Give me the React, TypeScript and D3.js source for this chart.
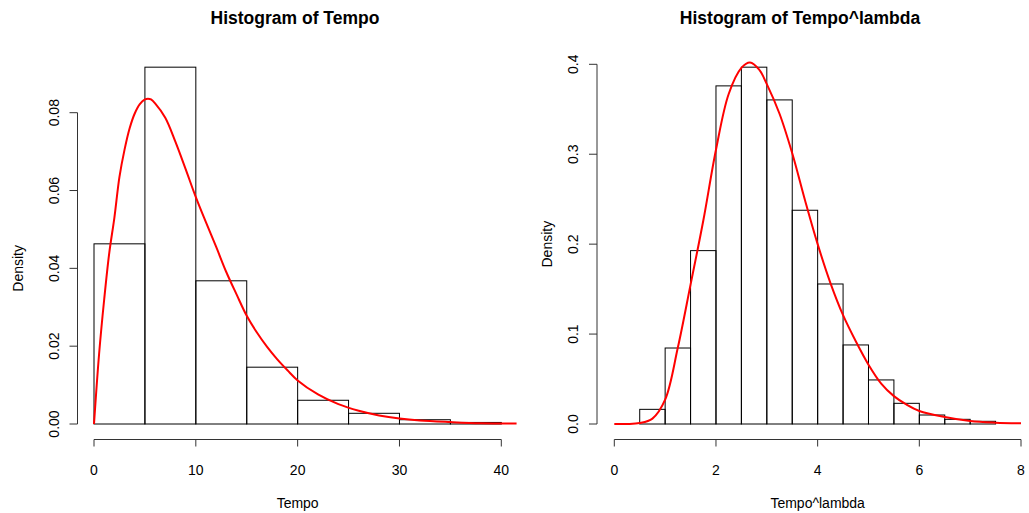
import React from "react";
import * as d3 from "d3";

// Left histogram: Tempo (bin width 5)
const tempoBinStarts = [0, 5, 10, 15, 20, 25, 30, 35];
const tempoDensity = [0.0463, 0.0917, 0.0368, 0.0146, 0.0061, 0.00275, 0.0011, 0.0004];
const tempoBinWidth = 5;
const tempoCurveX = [0, 0.5, 1, 1.5, 2, 2.5, 3, 3.5, 4, 4.5, 5, 5.3, 5.6, 6, 7, 8, 9, 10, 11, 12, 13, 14, 15, 16, 17, 18, 19, 20, 22, 24, 26, 28, 30, 32, 35, 38, 41.5];
const tempoCurveY = [0, 0.018, 0.032, 0.044, 0.053, 0.0635, 0.0705, 0.076, 0.0798, 0.0822, 0.0834, 0.0836, 0.0834, 0.0824, 0.0787, 0.0725, 0.0655, 0.0583, 0.0518, 0.0455, 0.039, 0.0333, 0.0278, 0.0235, 0.0198, 0.0166, 0.0138, 0.0112, 0.0076, 0.0051, 0.0034, 0.0022, 0.0014, 0.0009, 0.0005, 0.0002, 0.0001];
const tempoXTicks = [0, 10, 20, 30, 40];
const tempoYTicks = [0, 0.02, 0.04, 0.06, 0.08];

// Right histogram: Tempo^lambda (bin width 0.5)
const lambdaBinStarts = [0.5, 1, 1.5, 2, 2.5, 3, 3.5, 4, 4.5, 5, 5.5, 6, 6.5, 7];
const lambdaDensity = [0.0163, 0.0845, 0.1928, 0.376, 0.3968, 0.3604, 0.2377, 0.1557, 0.0879, 0.049, 0.023, 0.01, 0.0052, 0.003];
const lambdaBinWidth = 0.5;
const lambdaCurveX = [0, 0.25, 0.5, 0.75, 1, 1.25, 1.5, 1.75, 2, 2.25, 2.5, 2.67, 2.85, 3, 3.25, 3.5, 3.75, 4, 4.25, 4.5, 4.75, 5, 5.25, 5.5, 5.75, 6, 6.5, 7, 7.5, 8];
const lambdaCurveY = [0, 0, 0.001, 0.006, 0.027, 0.085, 0.155, 0.226, 0.305, 0.367, 0.396, 0.402, 0.394, 0.378, 0.345, 0.301, 0.249, 0.2, 0.157, 0.121, 0.092, 0.066, 0.045, 0.031, 0.0215, 0.0145, 0.0078, 0.0033, 0.0015, 0.0008];
const lambdaXTicks = [0, 2, 4, 6, 8];
const lambdaYTicks = [0, 0.1, 0.2, 0.3, 0.4];

const FONT = "'Liberation Sans', Arial, sans-serif";

type PanelProps = {
  title: string;
  titleX: number;
  xLabel: string;
  binStarts: number[];
  density: number[];
  binWidth: number;
  curveX: number[];
  curveY: number[];
  xTicks: number[];
  yTicks: number[];
  yFmt: (v: number) => string;
  xRange: [number, number];
  yRange: [number, number];
  axisX: number;
  yLabelX: number;
  yTickLabelX: number;
};

function Panel(p: PanelProps) {
  const xDom: [number, number] = [p.xTicks[0], p.xTicks[p.xTicks.length - 1]];
  const yDom: [number, number] = [p.yTicks[0], p.yTicks[p.yTicks.length - 1]];
  const x = d3.scaleLinear().domain(xDom).range(p.xRange);
  const y = d3.scaleLinear().domain(yDom).range(p.yRange);
  const axisY = 439.5;
  const line = d3
    .line<number>()
    .x((_, i) => x(p.curveX[i]))
    .y((d) => Math.min(y(0), y(d)))
    .curve(d3.curveCatmullRom.alpha(0.5));
  const yMid = (p.yRange[0] + p.yRange[1]) / 2;
  return (
    <g>
      <text x={p.titleX} y={24} textAnchor="middle" fontFamily={FONT} fontWeight="bold" fontSize={17.5}>
        {p.title}
      </text>
      {p.binStarts.map((b, i) => (
        <rect
          key={i}
          x={x(b)}
          y={y(p.density[i])}
          width={x(b + p.binWidth) - x(b)}
          height={y(0) - y(p.density[i])}
          fill="none"
          stroke="#000"
          strokeWidth={1}
        />
      ))}
      <path d={line(p.curveY) || ""} fill="none" stroke="#ff0000" strokeWidth={2} />
      {/* x axis */}
      <line x1={x(xDom[0])} x2={x(xDom[1])} y1={axisY} y2={axisY} stroke="#333" />
      {p.xTicks.map((t) => (
        <g key={t}>
          <line x1={x(t)} x2={x(t)} y1={axisY} y2={axisY + 7} stroke="#333" />
          <text x={x(t)} y={475} textAnchor="middle" fontFamily={FONT} fontSize={14}>
            {t}
          </text>
        </g>
      ))}
      <text x={(x(xDom[0]) + x(xDom[1])) / 2} y={508} textAnchor="middle" fontFamily={FONT} fontSize={14}>
        {p.xLabel}
      </text>
      {/* y axis */}
      <line x1={p.axisX} x2={p.axisX} y1={y(yDom[0])} y2={y(yDom[1])} stroke="#333" />
      {p.yTicks.map((t) => (
        <g key={t}>
          <line x1={p.axisX - 8} x2={p.axisX} y1={y(t)} y2={y(t)} stroke="#333" />
          <text
            transform={`translate(${p.yTickLabelX},${y(t)}) rotate(-90)`}
            textAnchor="middle"
            dominantBaseline="central"
            fontFamily={FONT}
            fontSize={14}
          >
            {p.yFmt(t)}
          </text>
        </g>
      ))}
      <text
        transform={`translate(${p.yLabelX},${yMid}) rotate(-90)`}
        textAnchor="middle"
        dominantBaseline="central"
        fontFamily={FONT}
        fontSize={14}
      >
        Density
      </text>
    </g>
  );
}

export default function App() {
  return (
    <svg
      width={1029}
      height={513}
      style={{ position: "absolute", left: 0, top: 0, background: "#fff" }}
    >
      <rect x={0} y={0} width={1029} height={513} fill="#fff" />
      <Panel
        title="Histogram of Tempo"
        titleX={295}
        xLabel="Tempo"
        binStarts={tempoBinStarts}
        density={tempoDensity}
        binWidth={tempoBinWidth}
        curveX={tempoCurveX}
        curveY={tempoCurveY}
        xTicks={tempoXTicks}
        yTicks={tempoYTicks}
        yFmt={(v) => v.toFixed(2)}
        xRange={[94, 501.3]}
        yRange={[424, 112.7]}
        axisX={77.5}
        yLabelX={18}
        yTickLabelX={54}
      />
      <Panel
        title="Histogram of Tempo^lambda"
        titleX={800}
        xLabel="Tempo^lambda"
        binStarts={lambdaBinStarts}
        density={lambdaDensity}
        binWidth={lambdaBinWidth}
        curveX={lambdaCurveX}
        curveY={lambdaCurveY}
        xTicks={lambdaXTicks}
        yTicks={lambdaYTicks}
        yFmt={(v) => v.toFixed(1)}
        xRange={[614.3, 1021]}
        yRange={[424, 64.3]}
        axisX={597}
        yLabelX={547}
        yTickLabelX={573}
      />
    </svg>
  );
}
